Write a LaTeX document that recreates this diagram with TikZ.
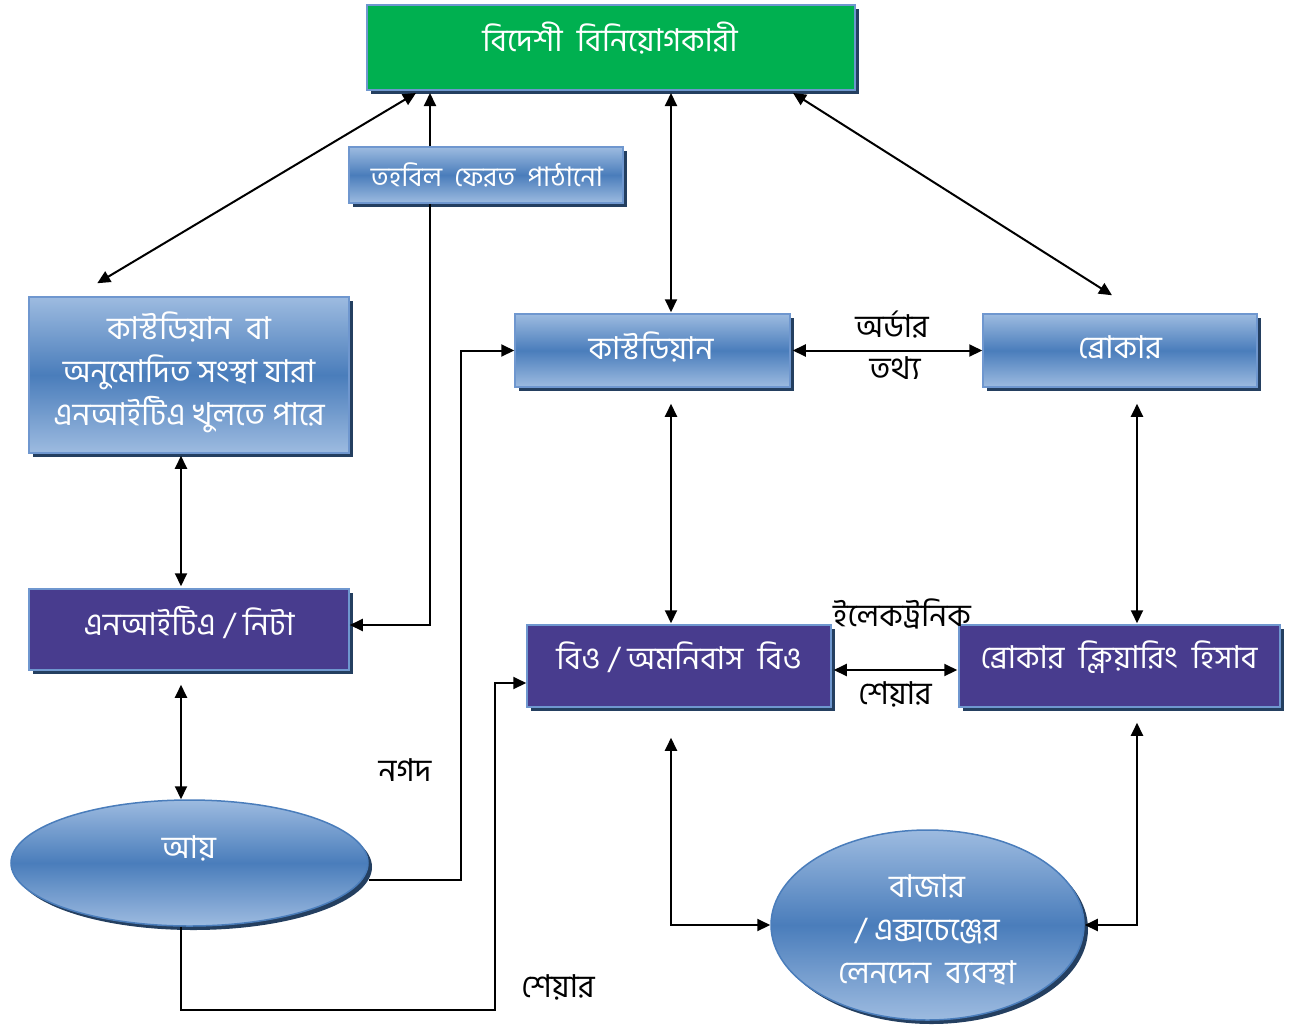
\documentclass[tikz,border=0pt]{standalone}
\usepackage{fontspec}
\newfontfamily\bn[Script=Bengali]{Hind Siliguri}
\usetikzlibrary{arrows.meta,shapes.geometric,shadows}
\definecolor{grn}{HTML}{00B050}
\definecolor{bordr}{HTML}{6F97CF}
\definecolor{bltop}{HTML}{9DBBE0}
\definecolor{blmid}{HTML}{4A7DBB}
\definecolor{purp}{HTML}{483C8E}
\definecolor{shad}{HTML}{243F60}
\tikzset{
  x=1pt,y=-1pt,
  shd/.style={general shadow={fill=shad,shadow xshift=4pt,shadow yshift=-4pt}},
  bfont/.style={font=\bn\fontsize{31.5}{43}\selectfont},
  sfont/.style={font=\bn\fontsize{27}{36}\selectfont},
  greenbox/.style={shd,draw=bordr,line width=2pt,fill=grn,inner sep=0pt},
  bluebox/.style={shd,draw=bordr,line width=1.5pt,top color=bltop,bottom color=bltop,middle color=blmid,inner sep=0pt},
  purpbox/.style={shd,draw=bordr,line width=1.5pt,fill=purp,inner sep=0pt},
  blueell/.style={shd,ellipse,draw=blmid,line width=1.5pt,top color=bltop,bottom color=bltop,middle color=blmid,inner sep=0pt},
  wtxt/.style={text=white,bfont,inner sep=0pt,align=center},
  lbl/.style={text=black,bfont,inner sep=0pt},
  conn/.style={line width=2pt,draw=black},
  arr/.style={conn,-{Triangle[length=13pt,width=12pt]}},
  dbl/.style={conn,{Triangle[length=13pt,width=12pt]}-{Triangle[length=13pt,width=12pt]}},
}
\begin{document}
\begin{tikzpicture}
\useasboundingbox (0,0) rectangle (1298,1026);
% columns for connectors
\coordinate (c1) at (671,0);
\coordinate (c2) at (1137,0);
\coordinate (c3) at (430,0);
\coordinate (c4) at (181,0);
\coordinate (c5) at (461,0);
\coordinate (c6) at (495,1010);

% shapes
\node[greenbox,minimum width=488pt,minimum height=85pt] (green) at (611,47.5) {};
\node[bluebox,minimum width=274pt,minimum height=56pt] (fund) at (486,175) {};
\node[bluebox,minimum width=320pt,minimum height=156pt] (lbox) at (189,375) {};
\node[purpbox,minimum width=320pt,minimum height=81pt] (nita) at (189,629.5) {};
\node[blueell,minimum width=357pt,minimum height=126pt] (aay) at (189.5,863) {};
\node[bluebox,minimum width=275pt,minimum height=73pt] (cust) at (652.5,350.5) {};
\node[bluebox,minimum width=274pt,minimum height=73pt] (broker) at (1120,350.5) {};
\node[purpbox,minimum width=304pt,minimum height=82pt] (bo) at (679,666) {};
\node[purpbox,minimum width=321pt,minimum height=82pt] (bca) at (1119.5,666) {};
\node[blueell,minimum width=313pt,minimum height=190pt] (bazar) at (927.5,925) {};

% texts in shapes
\node[wtxt] (greenT) at (610,38) {বিদেশী\ \ বিনিয়োগকারী};
\node[wtxt,sfont] (fundT) at (487,175) {তহবিল\ \ ফেরত\ \ পাঠানো};
\node[wtxt] (lboxT) at (189,372) {কাস্টডিয়ান\ \ বা\\অনুমোদিত সংস্থা যারা\\এনআইটিএ খুলতে পারে};
\node[wtxt] (nitaT) at (189,622) {এনআইটিএ / নিটা};
\node[wtxt] (aayT) at (189,848) {আয়};
\node[wtxt] (custT) at (651,347) {কাস্টডিয়ান};
\node[wtxt] (brokerT) at (1120,347) {ব্রোকার};
\node[wtxt] (boT) at (679,657) {বিও / অমনিবাস\ \ বিও};
\node[wtxt] (bcaT) at (1119,657) {ব্রোকার\ \ ক্লিয়ারিং\ \ হিসাব};
\node[wtxt] (bazarT) at (927,930) {বাজার\\/ এক্সচেঞ্জের\\লেনদেন\ \ ব্যবস্থা};

% labels
\node[lbl] (l1) at (405,770) {নগদ};
\node[lbl] (l2) at (558,987) {শেয়ার};
\node[lbl] (l3) at (892,325) {অর্ডার};
\node[lbl] (l4) at (895,368) {তথ্য};
\node[lbl] (l5) at (902,614) {ইলেকট্রনিক};
\node[lbl] (l6) at (895,694) {শেয়ার};

% connectors
\draw[dbl] ([xshift=50pt,yshift=-2pt]green.south west) -- ([xshift=69pt,yshift=13pt]lbox.north west);
\draw[arr] (fund.north -| c3) -- ([yshift=-2pt]green.south -| c3);
\draw[arr] (fund.south -| c3) |- ([yshift=4.5pt]nita.east);
\draw[dbl] ([yshift=-2pt]green.south -| c1) -- ([yshift=1pt]cust.north -| c1);
\draw[dbl] ([xshift=-63pt,yshift=-2pt]green.south east) -- ([xshift=-8pt,yshift=18pt]broker.north);
\draw[dbl] ([yshift=-2pt]lbox.south -| c4) -- ([yshift=2pt]nita.north -| c4);
\draw[dbl] ([yshift=-14pt]nita.south -| c4) -- (aay.north -| c4);
\draw[arr] ([yshift=-17pt]aay.east) -| (c5 |- cust.west) -- (cust.west);
\draw[arr] (aay.south -| c4) |- (c6) |- ([yshift=-17pt]bo.west);
\draw[dbl] ([xshift=2pt]cust.east) -- (broker.west);
\draw[dbl] ([yshift=-16pt]cust.south -| c1) -- ([yshift=1pt]bo.north -| c1);
\draw[dbl] ([yshift=-16pt]broker.south -| c2) -- ([yshift=1pt]bca.north -| c2);
\draw[dbl] ([xshift=2pt,yshift=-4pt]bo.east) -- ([xshift=-1pt,yshift=-4pt]bca.west);
\draw[dbl] ([yshift=-30pt]bo.south -| c1) |- (bazar.west);
\draw[dbl] ([yshift=-15pt]bca.south -| c2) |- (bazar.east);
\end{tikzpicture}
\end{document}
